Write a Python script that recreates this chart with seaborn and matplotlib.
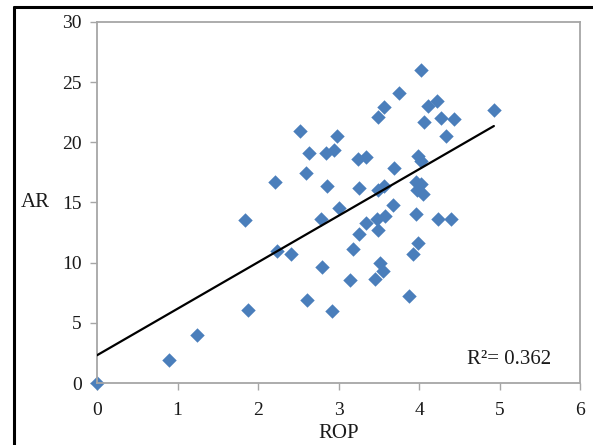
import matplotlib
matplotlib.use("Agg")
import matplotlib.pyplot as plt
from matplotlib.lines import Line2D
import pandas as pd
import seaborn as sns

# ROP vs AR values
rop = [0.00, 0.89, 1.24, 1.84, 1.87, 2.21, 2.24, 2.41, 2.52, 2.60,
       2.61, 2.63, 2.78, 2.80, 2.85, 2.86, 2.92, 2.95, 2.98, 3.00,
       3.14, 3.18, 3.24, 3.25, 3.26, 3.34, 3.34, 3.45, 3.49, 3.49,
       3.52, 3.48, 3.58, 3.55, 3.56, 3.49, 3.56, 3.69, 3.68, 3.75,
       3.88, 3.92, 3.96, 3.99, 4.03, 3.99, 4.02, 3.96, 4.02, 3.97,
       4.05, 4.06, 4.11, 4.22, 4.23, 4.27, 4.33, 4.40, 4.43, 4.93]
ar = [0.00, 1.88, 4.01, 13.57, 6.03, 16.67, 10.94, 10.72, 20.91, 17.48,
      6.86, 19.08, 13.62, 9.63, 19.08, 16.34, 5.95, 19.39, 20.52, 14.55,
      8.59, 11.14, 18.60, 16.23, 12.41, 18.77, 13.28, 8.65, 22.09, 12.70,
      10.00, 13.66, 13.85, 9.33, 22.97, 16.07, 16.36, 17.90, 14.82, 24.09,
      7.20, 10.75, 14.03, 11.62, 26.04, 18.89, 18.42, 16.73, 16.57, 16.07,
      15.74, 21.66, 23.05, 23.41, 13.63, 22.03, 20.56, 13.63, 21.97, 22.72]

x_ticks = [0, 1, 2, 3, 4, 5, 6]
y_ticks = [0, 5, 10, 15, 20, 25, 30]

df = pd.DataFrame({"ROP": rop, "AR": ar})

sns.set_style("ticks")
plt.rcParams["font.family"] = ["Liberation Serif", "DejaVu Serif"]

fig = plt.figure(figsize=(5.93, 4.45), dpi=100)
ax = fig.add_axes([0.1636, 0.1393, 0.8145, 0.8113])

sns.regplot(data=df, x="ROP", y="AR", ax=ax, ci=None,
            marker="D", color="#4a7ebb",
            scatter_kws={"s": 54, "linewidths": 0, "alpha": 1,
                         "zorder": 2, "clip_on": False},
            line_kws={"color": "black", "linewidth": 1.6, "zorder": 3})

ax.set_xlim(0, 6)
ax.set_ylim(0, 30)
ax.set_xticks(x_ticks)
ax.set_yticks(y_ticks)
ax.tick_params(axis="both", labelsize=14, length=5, width=1,
               color="#a6a6a6", labelcolor="#1a1a1a")
ax.tick_params(axis="y", pad=6)
ax.tick_params(axis="x", pad=9)

for side in ["left", "bottom", "top", "right"]:
    ax.spines[side].set_visible(True)
    ax.spines[side].set_color("#a6a6a6")
    ax.spines[side].set_linewidth(1.3)

ax.set_xlabel("ROP", fontsize=15, labelpad=3, color="#1a1a1a")
ax.set_ylabel("AR", fontsize=15, rotation=0, va="center", ha="left",
              color="#1a1a1a")
ax.yaxis.set_label_coords(-0.158, 0.5)

ax.text(0.94, 0.066, "R²= 0.362", transform=ax.transAxes,
        ha="right", va="center", fontsize=15, color="#1a1a1a")

# black frame around the picture
fig.add_artist(Line2D([14 / 593, 14 / 593], [0, 1 - 7 / 445],
                      transform=fig.transFigure, color="black", linewidth=2.2))
fig.add_artist(Line2D([14 / 593, 1], [1 - 7 / 445, 1 - 7 / 445],
                      transform=fig.transFigure, color="black", linewidth=2.2))

fig.savefig("out.png", dpi=100)
